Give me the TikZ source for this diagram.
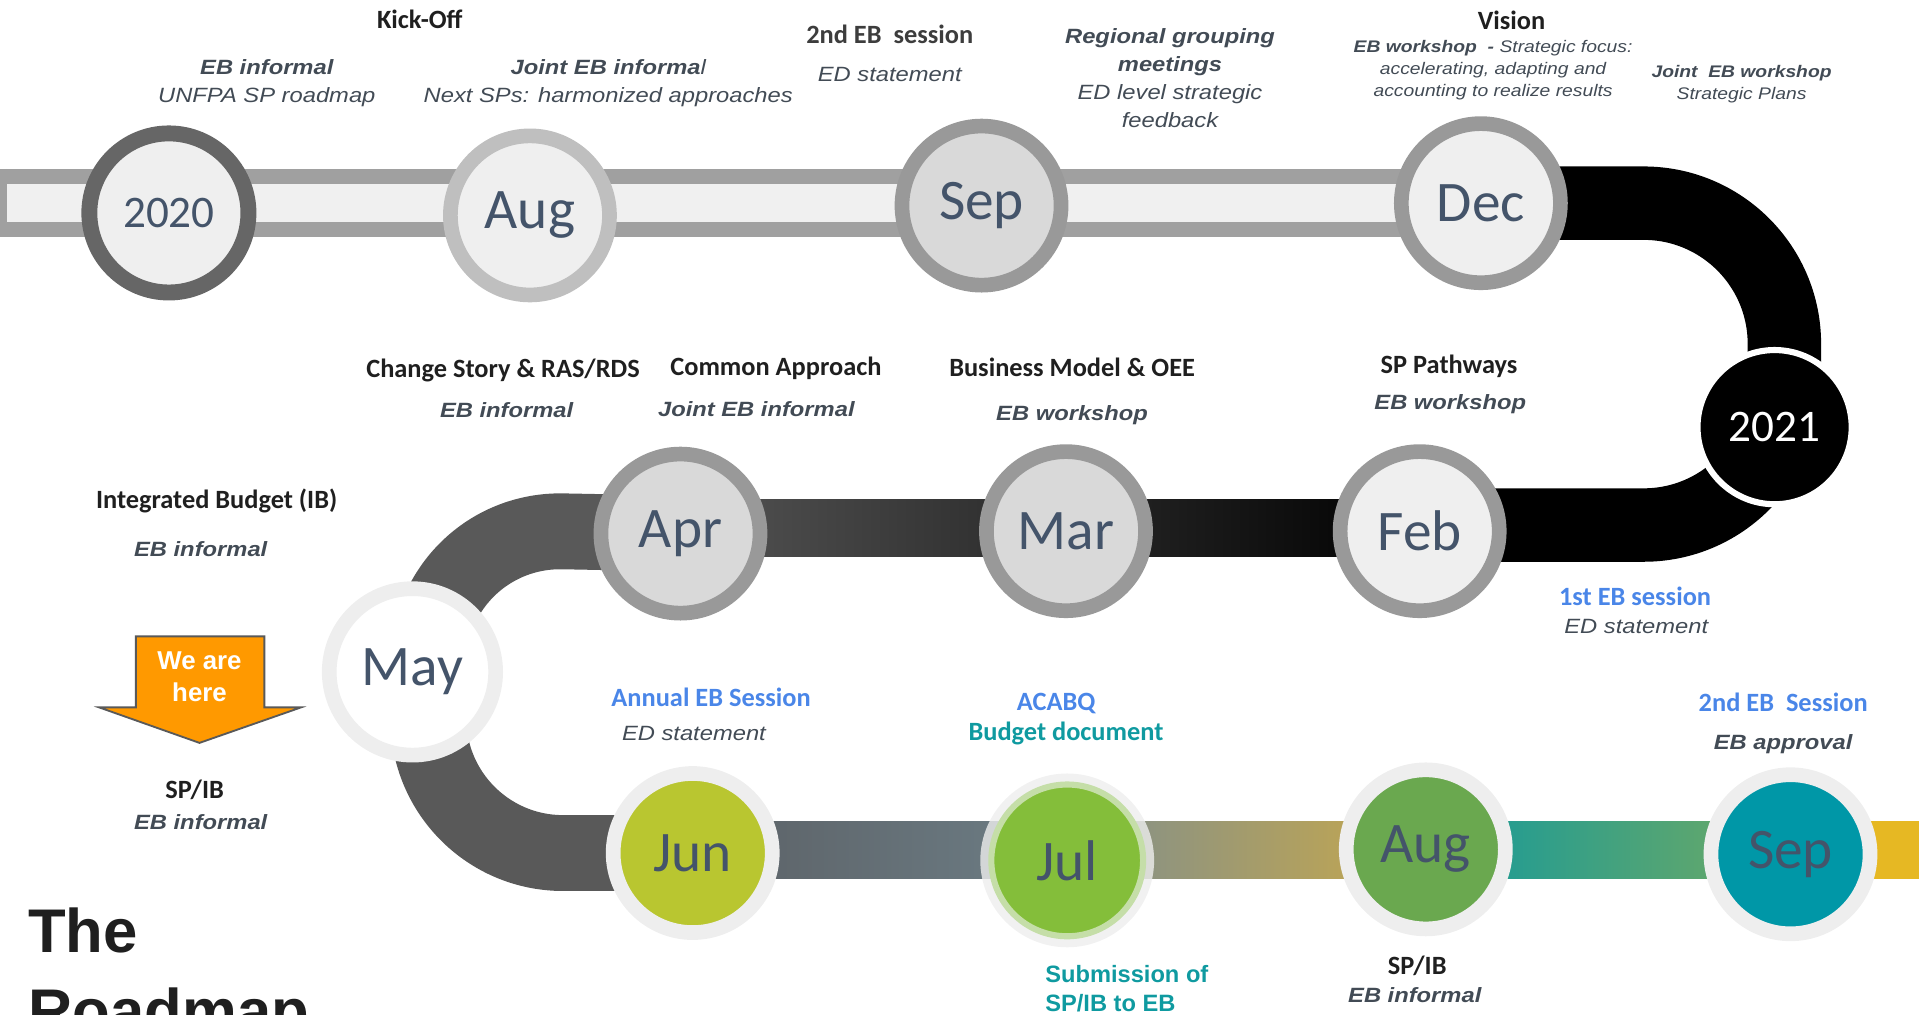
\documentclass[tikz,border=0pt]{standalone}
\usepackage{fontspec}
\setmainfont{Carlito}
\newfontfamily\arialw{Liberation Sans}[FakeStretch=1.15]
\newfontfamily\arial{Liberation Sans}
\usetikzlibrary{backgrounds}

\newcommand\px{0.03cm}
\definecolor{bandgray}{HTML}{A0A0A0}
\definecolor{bandfill}{HTML}{F0F0F0}
\definecolor{ringdark}{HTML}{666666}
\definecolor{ringmid}{HTML}{999999}
\definecolor{ringlight}{HTML}{BFBFBF}
\definecolor{ringpale}{HTML}{EEEEEE}
\definecolor{disclight}{HTML}{EFEFEF}
\definecolor{discgray}{HTML}{D9D9D9}
\definecolor{monthtext}{HTML}{44546A}
\definecolor{labgray}{HTML}{424B55}
\definecolor{headblack}{HTML}{1F1F1F}
\definecolor{sessblue}{HTML}{4A86E8}
\definecolor{docteal}{HTML}{0F9AA0}
\definecolor{curvegray}{HTML}{595959}
\definecolor{junfill}{HTML}{B9C630}
\definecolor{julfill}{HTML}{84BE3A}
\definecolor{julring}{HTML}{C5DEA8}
\definecolor{augfill}{HTML}{6AA84F}
\definecolor{sepfill}{HTML}{0097A7}
\definecolor{herefill}{HTML}{FF9900}
\definecolor{goldband}{HTML}{E6B823}

\newcommand\monthfont{\fontsize{40}{40}\selectfont}
\newcommand\yearfont{\fontsize{31.5}{32}\selectfont}
\newcommand\headfont{\fontsize{18.4}{22}\selectfont\bfseries}
\newcommand\labfont{\arialw\itshape\fontsize{14.4}{19.6}\selectfont}
\newcommand\smallfont{\arialw\itshape\fontsize{11.7}{15.3}\selectfont}

\begin{document}
\begin{tikzpicture}[x=0.03cm, y=-0.03cm,
    month/.style={circle, inner sep=0pt, minimum size=130*\px, line width=12*\px, font=\monthfont, text=monthtext},
    headtxt/.style={font=\headfont, text=headblack},
    bluetxt/.style={font=\headfont, text=sessblue},
    labtxt/.style={font=\labfont, text=labgray, align=center},
    labbold/.style={font=\labfont\bfseries, text=labgray},
    topband/.style={draw=bandgray, line width=12.5*\px, double=bandfill, double distance=31*\px}]
\useasboundingbox (0,0) rectangle (1568,829);

% month circles
\foreach \name/\x/\y/\txt/\rc/\fc in {augA/433/176/Aug/ringlight/disclight, sepA/802/168/Sep/ringmid/discgray,
    dec/1210/166/Dec/ringmid/disclight, apr/556/436/Apr/ringmid/discgray, mar/871/434/Mar/ringmid/discgray,
    feb/1160/434/Feb/ringmid/disclight, jun/566/697/Jun/ringpale/junfill, augB/1165/694/Aug/ringpale/augfill,
    sepB/1463/698/Sep/ringpale/sepfill} {
    \node[month, draw=\rc, fill=\fc] (\name) at (\x,\y) {\txt};
}
\node[month, draw=ringdark, fill=disclight, line width=13*\px, font=\yearfont] (c2020) at (138,174) {2020};
\node[month, draw=ringpale, fill=white, minimum size=136*\px] (may) at (337,549) {May};
\node[month, draw=julring, fill=julfill, line width=5*\px, minimum size=124*\px,
    preaction={draw=ringpale, draw opacity=.8, line width=18*\px}] (jul) at (872,703) {Jul};
\node[circle, inner sep=0pt, minimum size=126*\px, fill=black, draw=white, line width=5*\px,
    text=white, font=\yearfont] (y2021) at (1450,349) {2021};

% the road under the circles
\coordinate (start) at (3,166);
\coordinate (ne) at (1458,166);
\coordinate (se) at (1458,429);
\coordinate (nw) at (350,432);
\coordinate (sw) at (350,697);
\coordinate (eastend) at (1580,695);
\begin{scope}[on background layer]
    \draw[topband] (start) -- (dec.center);
    \draw[bandgray, line width=6*\px] ([yshift=28*\px]start) -- ([yshift=-28*\px]start);
    \draw[black, line width=60*\px, rounded corners=115*\px] (dec.center) -- (ne) -- (se) -- (se -| feb.center);
    \shade[left color=black!67, right color=black] (apr.center |- 0,408) rectangle (feb.center |- 0,455);
    \draw[curvegray, line width=62*\px, rounded corners=110*\px] (apr.center) -- (nw) -- (sw) -- (jun.center);
    \shade[left color={rgb,255:red,91;green,96;blue,101}, right color={rgb,255:red,109;green,126;blue,134}]
        (jun.center |- 0,671) rectangle (jul.center |- 0,718);
    \shade[left color={rgb,255:red,126;green,142;blue,142}, right color={rgb,255:red,201;green,169;blue,74}]
        (jul.center |- 0,671) rectangle (augB.center |- 0,718);
    \shade[left color={rgb,255:red,18;green,153;blue,156}, right color={rgb,255:red,114;green,170;blue,98}]
        (augB.center |- 0,671) rectangle (sepB.center |- 0,718);
    \fill[goldband] (sepB.center |- 0,671) rectangle (eastend |- 0,718);
\end{scope}

% top row texts
\node[headtxt] (kickoff) at (343,16) {Kick-Off};
\node[labtxt] (ebinfA) at (218,68) {{\bfseries EB informal}\\UNFPA SP roadmap};
\node[labtxt] (jointA) at (497,68) {{\bfseries Joint EB informa}l\\Next SPs: harmonized approaches};
\node[headtxt, text=black!76] (ebsessA) at (727,28) {2nd EB\ \ session};
\node[labtxt] (edstA) at (727,61) {ED statement};
\node[labtxt] (regional) at (956,64) {{\bfseries Regional grouping}\\{\bfseries meetings}\\ED level strategic\\feedback};
\node[headtxt] (vision) at (1235,17) {Vision};
\node[font=\smallfont, text=labgray, align=center] (focus) at (1220,57)
    {{\bfseries EB workshop\ \ -} Strategic focus:\\accelerating, adapting and\\accounting to realize results};
\node[font=\smallfont, text=labgray, align=center] (jointws) at (1423,69) {{\bfseries Joint\ \ EB workshop}\\Strategic Plans};

% middle row texts
\node[headtxt] (change) at (411,303) {Change Story \& RAS/RDS};
\node[labbold] (ebinfB) at (414,335) {EB informal};
\node[headtxt] (common) at (634,301) {Common Approach};
\node[labbold] (jointB) at (618,334) {Joint EB informal};
\node[headtxt] (business) at (876,300) {Business Model \& OEE};
\node[labbold] (ebwsA) at (876,339) {EB workshop};
\node[headtxt] (pathways) at (1184,299) {SP Pathways};
\node[labbold] (ebwsB) at (1185,330) {EB workshop};
\node[bluetxt] (firstsess) at (1336,487) {1st EB session};
\node[labtxt] (edstB) at (1337,512) {ED statement};
\node[headtxt] (budget) at (177,409) {Integrated Budget (IB)};
\node[labbold] (ebinfC) at (164,449) {EB informal};

% we are here
\draw[fill=herefill, draw=black!65, line width=1.5*\px] (111,520) -- (216,520) -- (216,578) -- (246,578)
    -- (163,607) -- (81,578) -- (111,578) -- cycle;
\node[font=\arial\bfseries\fontsize{18}{22}\selectfont, text=white, align=center] (here) at (163,553) {We are\\here};
\node[headtxt] (spibA) at (159,645) {SP/IB};
\node[labbold] (ebinfD) at (164,672) {EB informal};
\node[font=\arial\bfseries\fontsize{43}{56}\selectfont, text=headblack, anchor=base west] (titleA) at (19,778) {The};
\node[font=\arial\bfseries\fontsize{43}{56}\selectfont, text=headblack, anchor=base west] (titleB) at (19,844) {Roadmap};

% bottom row texts
\node[bluetxt] (annual) at (581,570) {Annual EB Session};
\node[labtxt] (edstC) at (567,599) {ED statement};
\node[bluetxt] (acabq) at (863,575) {ACABQ};
\node[headtxt, text=docteal] (budgetdoc) at (871,599) {Budget document};
\node[bluetxt] (ebsessB) at (1457,574) {2nd EB\ \ Session};
\node[labbold] (approval) at (1457,608) {EB approval};
\node[font=\arial\bfseries\fontsize{16.5}{20.4}\selectfont, text=docteal, align=left, anchor=west] (submit) at (850,808)
    {Submission of\\SP/IB to EB};
\node[headtxt] (spibB) at (1158,789) {SP/IB};
\node[labbold] (ebinfE) at (1156,813) {EB informal};
\end{tikzpicture}
\end{document}
